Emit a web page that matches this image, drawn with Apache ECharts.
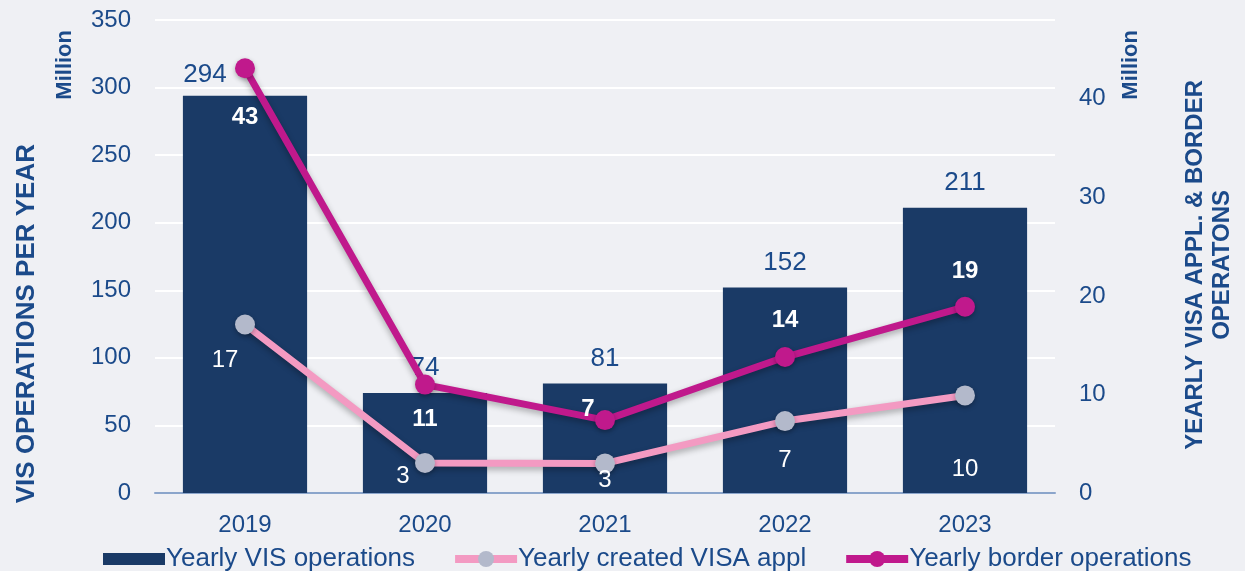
<!DOCTYPE html>
<html>
<head>
<meta charset="utf-8">
<script src="https://cdn.jsdelivr.net/npm/echarts@6/dist/echarts.min.js"></script>
<style>
  html, body { margin: 0; padding: 0; background: #eff0f4; }
  #myChart { width: 1245px; height: 571px; }
</style>
</head>
<body>
<div id="myChart"></div>
<script>
// data (million)
var years = ["2019", "2020", "2021", "2022", "2023"];
var visOperations = [294, 74, 81, 152, 211];
var visaApplications = [17.1, 3.05, 3, 7.3, 9.9];
var borderOperations = [43.1, 11, 7.4, 13.8, 18.9];
var rightTicks = [0, 10, 20, 30, 40];

var navy = "#1a3a66";
var txt = "#1b4a8a";
var font = "Liberation Sans, Arial, sans-serif";

// label offsets from each point (px)
var visaOffsets = [[-20, 36], [-22, 13], [0, 17], [0, 39], [0, 74]];
var borderOffsets = [[0, 49], [0, 35], [-17, -11], [0, -37], [0, -35]];

var myChart = echarts.init(document.getElementById("myChart"));
myChart.setOption({
  backgroundColor: "#eff0f4",
  textStyle: { fontFamily: font },
  grid: { left: 155, right: 190, top: 20, bottom: 78 },
  legend: {
    left: 98,
    top: 541,
    itemWidth: 62,
    itemHeight: 20,
    itemGap: 36,
    textStyle: { color: txt, fontSize: 26, fontFamily: font, padding: [0, 0, 0, -4] },
    lineStyle: { width: 8 },
    data: [
      { name: "Yearly VIS operations", icon: "path://M0,4h62v12h-62z" },
      { name: "Yearly created VISA appl" },
      { name: "Yearly border operations" }
    ]
  },
  xAxis: {
    type: "category",
    data: years,
    axisLine: { lineStyle: { color: "#8ba5cb", width: 2 } },
    axisTick: { show: false },
    axisLabel: { color: txt, fontSize: 24, margin: 20 }
  },
  yAxis: [
    {
      type: "value",
      min: 0,
      max: 350,
      interval: 50,
      axisLabel: { color: txt, fontSize: 24, margin: 24 },
      splitLine: { lineStyle: { color: "#ffffff", width: 2 } },
      axisLine: { show: false },
      axisTick: { show: false }
    },
    {
      type: "value",
      min: 0,
      max: 48,
      interval: 10,
      axisLabel: {
        color: txt,
        fontSize: 24,
        margin: 24,
        showMaxLabel: false,
        formatter: function (v) { return rightTicks.indexOf(v) >= 0 ? v : ""; }
      },
      splitLine: { show: false },
      axisLine: { show: false },
      axisTick: { show: false }
    }
  ],
  graphic: [
    { type: "text", left: 14, top: 144, rotation: Math.PI / 2,
      style: { text: "VIS OPERATIONS PER YEAR", fill: txt, font: "bold 26px " + font } },
    { type: "text", left: 54, top: 30, rotation: Math.PI / 2,
      style: { text: "Million", fill: txt, font: "bold 22px " + font } },
    { type: "text", left: 1120, top: 30, rotation: Math.PI / 2,
      style: { text: "Million", fill: txt, font: "bold 22px " + font } },
    { type: "text", left: 1183, top: 80, rotation: Math.PI / 2,
      style: { text: "YEARLY VISA APPL. & BORDER", fill: txt, font: "bold 24px " + font } },
    { type: "text", left: 1210, top: 190, rotation: Math.PI / 2,
      style: { text: "OPERATONS", fill: txt, font: "bold 24px " + font } }
  ],
  series: [
    {
      name: "Yearly VIS operations",
      type: "bar",
      barWidth: "69%",
      itemStyle: { color: navy },
      data: visOperations.map(function (v, i) {
        return {
          value: v,
          label: i === 0 ? { offset: [-40, 4] } : undefined
        };
      }),
      label: { show: true, position: "top", color: txt, fontSize: 26, distance: 12 }
    },
    {
      name: "Yearly created VISA appl",
      type: "line",
      yAxisIndex: 1,
      symbol: "circle",
      symbolSize: 20,
      lineStyle: { color: "#f39ac2", width: 7, shadowColor: "rgba(0,0,0,0.3)", shadowBlur: 6, shadowOffsetY: 3 },
      itemStyle: { color: "#b3b9cb", shadowColor: "rgba(0,0,0,0.3)", shadowBlur: 5, shadowOffsetY: 2 },
      z: 3,
      data: visaApplications.map(function (v, i) {
        return { value: v, label: { offset: visaOffsets[i] } };
      }),
      label: {
        show: true,
        position: "inside",
        color: "#ffffff",
        fontSize: 24,
        formatter: function (p) { return Math.round(p.value); }
      }
    },
    {
      name: "Yearly border operations",
      type: "line",
      yAxisIndex: 1,
      symbol: "circle",
      symbolSize: 20,
      lineStyle: { color: "#c0198c", width: 7, shadowColor: "rgba(0,0,0,0.3)", shadowBlur: 6, shadowOffsetY: 3 },
      itemStyle: { color: "#c0198c", shadowColor: "rgba(0,0,0,0.3)", shadowBlur: 5, shadowOffsetY: 2 },
      z: 4,
      data: borderOperations.map(function (v, i) {
        return { value: v, label: { offset: borderOffsets[i] } };
      }),
      label: {
        show: true,
        position: "inside",
        color: "#ffffff",
        fontSize: 24,
        fontWeight: "bold",
        formatter: function (p) { return Math.round(p.value); }
      }
    }
  ]
});
</script>
</body>
</html>
